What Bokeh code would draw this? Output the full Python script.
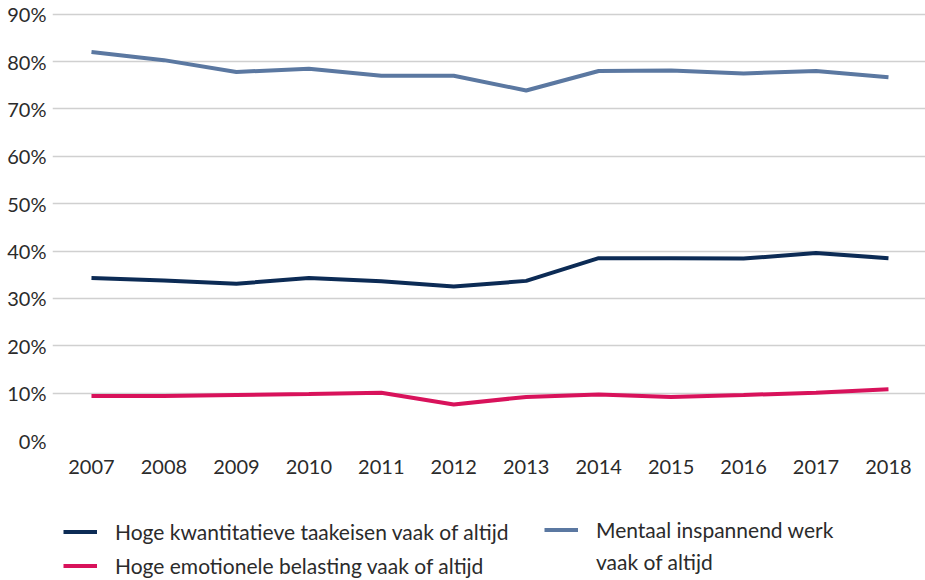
from bokeh.plotting import figure
from bokeh.layouts import column
from bokeh.models import (ColumnDataSource, Range1d, FixedTicker, Legend, LegendItem)
from bokeh.embed import file_html
from bokeh.resources import INLINE

years = [2007, 2008, 2009, 2010, 2011, 2012, 2013, 2014, 2015, 2016, 2017, 2018]
kwantitatief = [34.3, 33.8, 33.1, 34.3, 33.6, 32.5, 33.7, 38.5, 38.5, 38.4, 39.6, 38.5]
emotioneel = [9.4, 9.4, 9.6, 9.8, 10.1, 7.6, 9.2, 9.7, 9.2, 9.6, 10.1, 10.8]
mentaal = [82.0, 80.3, 77.8, 78.5, 77.0, 77.0, 73.9, 78.0, 78.1, 77.5, 78.0, 76.7]
y_ticks = [0, 10, 20, 30, 40, 50, 60, 70, 80, 90]
y_tick_labels = ["0%", "10%", "20%", "30%", "40%", "50%", "60%", "70%", "80%", "90%"]
series_names = ["Hoge kwantitatieve taakeisen vaak of altijd",
                "Hoge emotionele belasting vaak of altijd",
                "Mentaal inspannend werk"]
mentaal_line2 = "vaak of altijd"
colors = ["#0c2b55", "#d8125b", "#5b78a1"]

FONT = "Lato"
TXT = "#2b2b2b"

p = figure(width=925, height=490, output_backend="svg", toolbar_location=None,
           x_range=Range1d(2006.462, 2018.511), y_range=Range1d(0, 90.36),
           min_border_left=52, min_border_right=0, min_border_top=12, min_border_bottom=50)
p.outline_line_color = None
p.background_fill_color = "white"

src = ColumnDataSource(dict(x=years, k=kwantitatief, e=emotioneel, m=mentaal))
p.line("x", "k", source=src, line_color=colors[0], line_width=4)
p.line("x", "e", source=src, line_color=colors[1], line_width=4)
p.line("x", "m", source=src, line_color=colors[2], line_width=4)

p.xaxis.ticker = FixedTicker(ticks=years)
p.xaxis.major_label_overrides = {y: str(y) for y in years}
p.yaxis.ticker = FixedTicker(ticks=y_ticks)
p.yaxis.major_label_overrides = dict(zip(y_ticks, y_tick_labels))
for ax in (p.xaxis[0], p.yaxis[0]):
    ax.axis_line_color = None
    ax.major_tick_line_color = None
    ax.minor_tick_line_color = None
    ax.major_tick_out = 0
    ax.major_tick_in = 0
    ax.major_label_text_font = FONT
    ax.major_label_text_font_size = "20px"
    ax.major_label_text_color = TXT
p.xaxis.major_label_standoff = 19
p.yaxis.major_label_standoff = 6

p.xgrid.grid_line_color = None
p.ygrid.grid_line_color = "#d0d0d0"
p.ygrid.grid_line_width = 1.5

# legend panel below the chart (its own ranges keep these series lines out of view;
# they only supply the legend keys)
q = figure(width=925, height=90, output_backend="svg", toolbar_location=None,
           x_axis_type=None, y_axis_type=None, x_range=Range1d(0, 1), y_range=Range1d(0, 1),
           min_border=0)
q.outline_line_color = None
q.xgrid.grid_line_color = None
q.ygrid.grid_line_color = None
lk = q.line("x", "k", source=src, line_color=colors[0], line_width=4)
le = q.line("x", "e", source=src, line_color=colors[1], line_width=4)
lm = q.line("x", "m", source=src, line_color=colors[2], line_width=4)
lb = q.line("x", "m", source=src, line_alpha=0)

common = dict(border_line_color=None, background_fill_alpha=0, padding=0, margin=0,
              spacing=1, glyph_width=34, label_standoff=18, label_text_font=FONT,
              label_text_font_size="21px", label_text_color=TXT)
leg_a = Legend(items=[LegendItem(label=series_names[0], renderers=[lk]),
                      LegendItem(label=series_names[1], renderers=[le])],
               location=(11, -2), glyph_height=33, label_height=33, **common)
leg_b = Legend(items=[LegendItem(label=series_names[2], renderers=[lm]),
                      LegendItem(label=mentaal_line2, renderers=[lb])],
               location=(492, 3), glyph_height=31, label_height=31, **common)
q.add_layout(leg_a)
q.add_layout(leg_b)

layout = column(p, q, spacing=0)
open("out.html", "w").write(file_html(layout, INLINE))
